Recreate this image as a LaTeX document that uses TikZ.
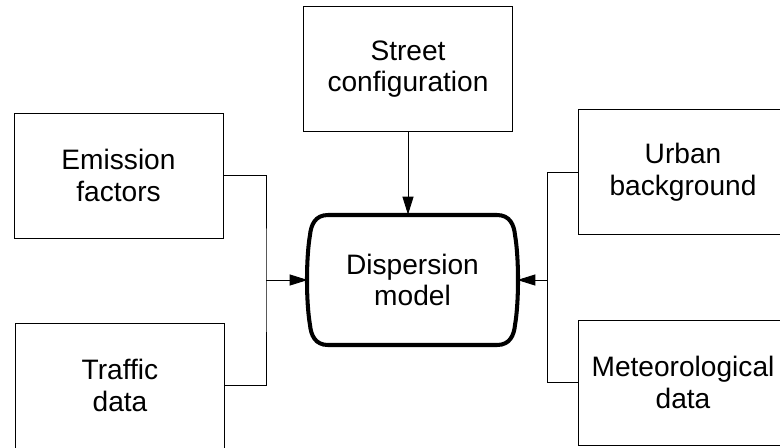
\documentclass[tikz,border=0pt]{standalone}
\usepackage{fontspec}
\setmainfont{Liberation Sans}
\usetikzlibrary{arrows.meta}

\tikzset{
  box/.style = {draw, line width=0.5pt, minimum width=4.18cm, minimum height=2.5cm,
    align=center, font=\fontsize{16}{18}\selectfont},
  feed/.style = {line width=0.5pt},
  into/.style = {feed, -{Triangle[length=3.6mm, width=2.2mm]}}
}

\begin{document}
\begin{tikzpicture}[x=0.02cm, y=-0.02cm]
  \useasboundingbox (0,0) rectangle (780,447);
  \clip (0,0) rectangle (780,447);

  \node[box] (street)   at (408,69)      {Street\\configuration};
  \node[box] (emission) at (118.5,175.5) {Emission\\factors};
  \node[box] (traffic)  at (120,385.5)   {Traffic\\data};
  \node[box] (urban)    at (683,172)     {Urban\\background};
  \node[box] (meteo)    at (683,382.5)   {Meteorological\\data};

  % the model itself: flat top and bottom, bulging sides
  \node[minimum width=4.18cm, minimum height=2.6cm, align=center,
    font=\fontsize{16}{18}\selectfont] (model) at (412.5,280) {Dispersion\\model};
  \draw[line width=2.3pt]
    (328,215) -- (497,215)
    .. controls (510,215) and (514,225) .. (515,235)
    .. controls (519,258) and (519,302) .. (515,325)
    .. controls (514,335) and (510,345) .. (497,345)
    -- (328,345)
    .. controls (315,345) and (311,335) .. (310,325)
    .. controls (306,302) and (306,258) .. (310,235)
    .. controls (311,225) and (315,215) .. (328,215) -- cycle;

  \coordinate (ljoin) at (266,280);
  \coordinate (rjoin) at (547,280);

  \draw[feed] (emission.east) -| (ljoin) |- (traffic.east);
  \draw[into] (ljoin) -- (model.west);
  \draw[feed] (urban.west) -| (rjoin) |- (meteo.west);
  \draw[into] (rjoin) -- (model.east);
  \draw[into] (street.south) -- (street.south |- model.north);
\end{tikzpicture}
\end{document}
